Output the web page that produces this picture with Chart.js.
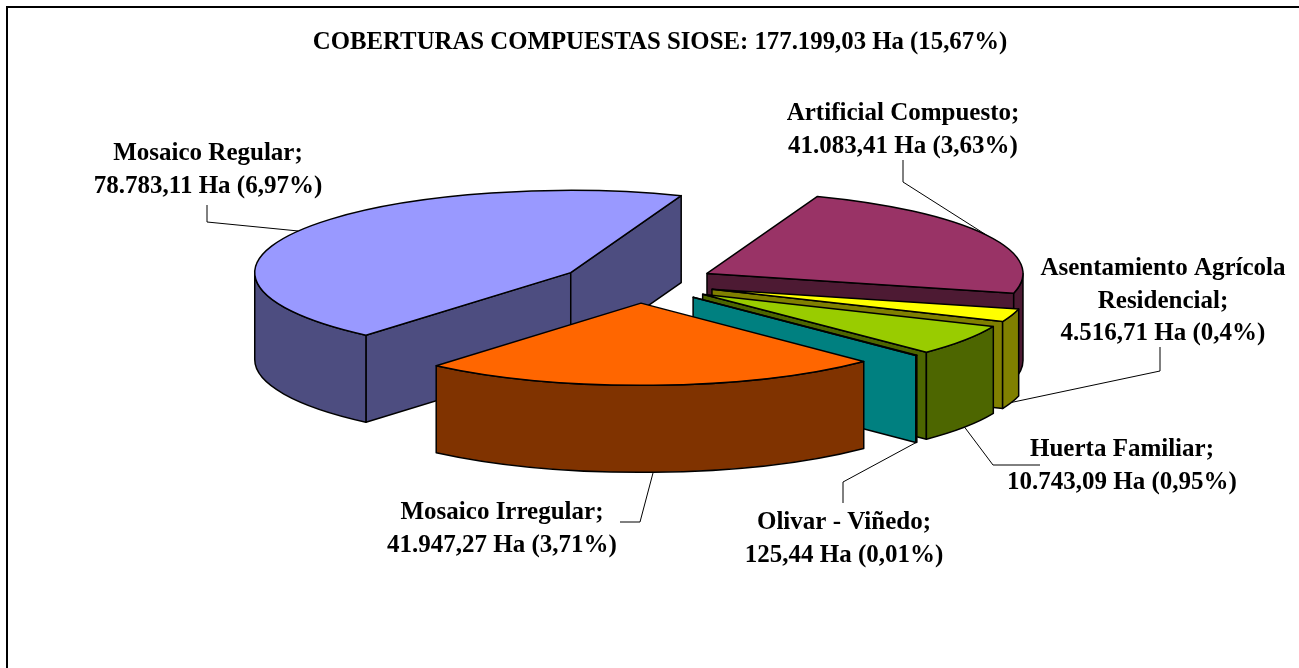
<!DOCTYPE html>
<html>
<head>
<meta charset="utf-8">
<style>
  html, body { margin: 0; padding: 0; background: #fff; overflow: hidden; }
  canvas { display: block; }
</style>
<script src="https://cdn.jsdelivr.net/npm/chart.js@4/dist/chart.umd.min.js"></script>
</head>
<body>
<canvas id="chart" width="1320" height="668"></canvas>
<script>
const titleText = "COBERTURAS COMPUESTAS SIOSE: 177.199,03 Ha (15,67%)";
const categories = ["Mosaico Regular", "Artificial Compuesto", "Asentamiento Agrícola Residencial", "Huerta Familiar", "Olivar - Viñedo", "Mosaico Irregular"];
const hectares = [78783.11, 41083.41, 4516.71, 10743.09, 125.44, 41947.27];
const labelLines = [
  ["Mosaico Regular;", "78.783,11 Ha (6,97%)"],
  ["Artificial Compuesto;", "41.083,41 Ha (3,63%)"],
  ["Asentamiento Agrícola", "Residencial;", "4.516,71 Ha (0,4%)"],
  ["Huerta Familiar;", "10.743,09 Ha (0,95%)"],
  ["Olivar - Viñedo;", "125,44 Ha (0,01%)"],
  ["Mosaico Irregular;", "41.947,27 Ha (3,71%)"]
];
const topColors = ["#9999ff", "#993366", "#ffff00", "#99cc00", "#00ffff", "#ff6600"];
const wallColors = ["#4d4d80", "#4d1a33", "#808000", "#4d6600", "#008080", "#803300"];

// layout only: text centre, first line y, then the elbow of the leader line
const labelLayout = [
  { x: 208, y: 154, from: [207, 205], elbow: [207, 222], foot: false },
  { x: 903, y: 114, from: [903, 160], elbow: [903, 182], foot: false },
  { x: 1163, y: 269, from: [1160, 347], elbow: [1160, 371], foot: true },
  { x: 1122, y: 450, from: [1040, 465], elbow: [993, 465], foot: true },
  { x: 844, y: 523, from: [843, 503], elbow: [843, 482], foot: true },
  { x: 502, y: 513, from: [620, 522], elbow: [640, 522], foot: true }
];

const FONT = "'Liberation Serif', 'Times New Roman', serif";
const squash = 0.26;   // tilt of the pie
const depth = 87;      // height of the walls
const shiftX = -22;    // the pie sits left of the title centre

function apex(arc) {
  const p = arc.getProps(["x", "y", "startAngle", "endAngle", "outerRadius"], true);
  const mid = (p.startAngle + p.endAngle) / 2;
  const off = arc.options.offset;
  return {
    x: p.x + shiftX + Math.cos(mid) * off,
    y: p.y + Math.sin(mid) * off * squash,
    a: p.startAngle,
    b: p.endAngle,
    mid: mid,
    r: p.outerRadius
  };
}

function rim(s, angle) {
  return { x: s.x + Math.cos(angle) * s.r, y: s.y + Math.sin(angle) * s.r * squash };
}

function shape(ctx, fill, build) {
  ctx.beginPath();
  build();
  ctx.closePath();
  ctx.fillStyle = fill;
  ctx.fill();
  ctx.stroke();
}

function drawFace(ctx, s, angle, fill) {
  const e = rim(s, angle);
  shape(ctx, fill, () => {
    ctx.moveTo(s.x, s.y);
    ctx.lineTo(e.x, e.y);
    ctx.lineTo(e.x, e.y + depth);
    ctx.lineTo(s.x, s.y + depth);
  });
}

function drawSlice(ctx, s, top, wall) {
  ctx.lineWidth = 1.5;
  ctx.strokeStyle = "#000";
  ctx.lineJoin = "round";
  if (Math.cos(s.a) < 0) drawFace(ctx, s, s.a, wall);
  if (Math.cos(s.b) > 0) drawFace(ctx, s, s.b, wall);
  // only the front half of the rim shows a wall
  for (let n = -1; n <= 2; n++) {
    const from = Math.max(s.a, n * 2 * Math.PI);
    const to = Math.min(s.b, n * 2 * Math.PI + Math.PI);
    if (to <= from) continue;
    shape(ctx, wall, () => {
      ctx.ellipse(s.x, s.y, s.r, s.r * squash, 0, from, to);
      ctx.ellipse(s.x, s.y + depth, s.r, s.r * squash, 0, to, from, true);
    });
  }
  shape(ctx, top, () => {
    ctx.moveTo(s.x, s.y);
    ctx.ellipse(s.x, s.y, s.r, s.r * squash, 0, s.a, s.b);
  });
}

const pie3d = {
  id: "pie3d",
  beforeDraw(chart) {
    const ctx = chart.ctx;
    ctx.save();
    ctx.strokeStyle = "#000";
    ctx.lineWidth = 2;
    ctx.strokeRect(7, 7, 1400, 800);
    ctx.restore();
  },
  beforeDatasetDraw(chart) {
    const ctx = chart.ctx;
    const slices = chart.getDatasetMeta(0).data.map((arc, i) => ({ s: apex(arc), i: i }));
    ctx.save();
    // far slices first, the nearest one last
    slices.slice().sort((p, q) => Math.sin(p.s.mid) - Math.sin(q.s.mid))
      .forEach(p => drawSlice(ctx, p.s, topColors[p.i], wallColors[p.i]));

    ctx.lineWidth = 1;
    ctx.strokeStyle = "#000";
    slices.forEach(p => {
      const l = labelLayout[p.i];
      const end = rim(p.s, p.s.mid);
      ctx.beginPath();
      ctx.moveTo(l.from[0], l.from[1]);
      ctx.lineTo(l.elbow[0], l.elbow[1]);
      ctx.lineTo(end.x, end.y + (l.foot ? depth : 0));
      ctx.stroke();
    });

    ctx.fillStyle = "#000";
    ctx.font = "bold 25px " + FONT;
    ctx.textAlign = "center";
    ctx.textBaseline = "middle";
    labelLines.forEach((lines, i) => {
      lines.forEach((t, j) => ctx.fillText(t, labelLayout[i].x, labelLayout[i].y + j * 32.5));
    });
    ctx.restore();
    return false;
  }
};

new Chart(document.getElementById("chart").getContext("2d"), {
  type: "pie",
  data: {
    labels: categories,
    datasets: [{
      data: hectares,
      backgroundColor: topColors,
      offset: 78,
      radius: 316,
      rotation: 220.4
    }]
  },
  options: {
    responsive: false,
    animation: false,
    layout: { padding: { bottom: 160 } },
    plugins: {
      legend: { display: false },
      tooltip: { enabled: false },
      title: {
        display: true,
        text: titleText,
        color: "#000",
        font: { family: FONT, size: 24.8, weight: "bold" },
        padding: { top: 28, bottom: 0 }
      }
    }
  },
  plugins: [pie3d]
});
</script>
</body>
</html>
